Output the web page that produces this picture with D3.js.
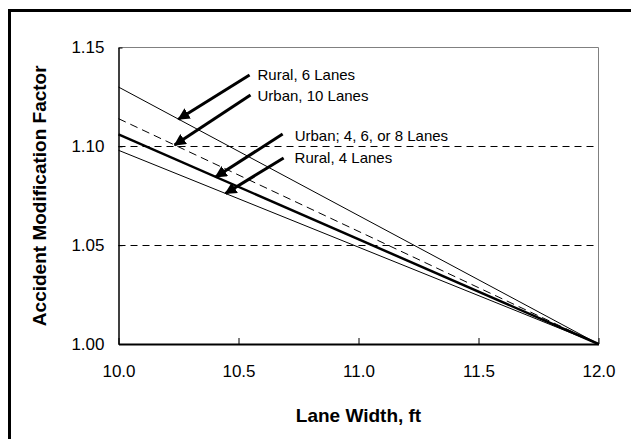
<!DOCTYPE html>
<html>
<head>
<meta charset="utf-8">
<script src="https://cdn.jsdelivr.net/npm/d3@7"></script>
<style>
  html, body { margin: 0; padding: 0; background: #fff; }
  svg { display: block; font-family: Arial, "Liberation Sans", sans-serif; }
</style>
</head>
<body>
<script>
// Lane width (ft) and accident modification factor for each roadway type
const laneWidths = [10.0, 12.0];
const rural6Lanes = [1.130, 1.000];
const urban10Lanes = [1.114, 1.000];
const urban468Lanes = [1.106, 1.000];
const rural4Lanes = [1.098, 1.000];

const xTicks = [10.0, 10.5, 11.0, 11.5, 12.0];
const yTicks = [1.00, 1.05, 1.10, 1.15];
const gridValues = [1.05, 1.10];

// Callouts: arrow tip sits on the series line, tail near the label
const callouts = [
  { label: "Rural, 6 Lanes",          tipX: 10.25,  series: rural6Lanes,   tailX: 10.546, tailY: 1.1361, dx: 8,  dy: 5 },
  { label: "Urban, 10 Lanes",         tipX: 10.234, series: urban10Lanes,  tailX: 10.550, tailY: 1.1260, dx: 7,  dy: 6.5 },
  { label: "Urban; 4, 6, or 8 Lanes", tipX: 10.405, series: urban468Lanes, tailX: 10.684, tailY: 1.1062, dx: 12, dy: 7 },
  { label: "Rural, 4 Lanes",          tipX: 10.446, series: rural4Lanes,   tailX: 10.688, tailY: 1.0941, dx: 11, dy: 5 }
];

const W = 631, H = 439;
const plot = { left: 118.5, right: 598.5, top: 47.5, bottom: 344 };

const svg = d3.select("body").append("svg").attr("width", W).attr("height", H);

// Outer chart frame
svg.append("rect")
  .attr("x", 9.5).attr("y", 10.5)
  .attr("width", W + 20).attr("height", H + 20)
  .attr("fill", "none").attr("stroke", "#000").attr("stroke-width", 3);

const x = d3.scaleLinear().domain([10, 12]).range([plot.left, plot.right]);
const y = d3.scaleLinear().domain([1.0, 1.15]).range([plot.bottom, plot.top]);

// Plot area border (top and right in grey)
svg.append("path")
  .attr("d", `M${plot.left},${plot.top}H${plot.right}V${plot.bottom}`)
  .attr("fill", "none").attr("stroke", "#808080").attr("stroke-width", 1);

// Dashed horizontal gridlines
svg.append("g").selectAll("line").data(gridValues).join("line")
  .attr("x1", plot.left).attr("x2", plot.right)
  .attr("y1", d => Math.round(y(d)) + 0.5).attr("y2", d => Math.round(y(d)) + 0.5)
  .attr("stroke", "#000").attr("stroke-width", 1)
  .attr("stroke-dasharray", "7,5");

// Series lines
const seriesDefs = [
  { values: rural6Lanes,   width: 1,   dash: null },
  { values: urban10Lanes,  width: 1,   dash: "8,5" },
  { values: urban468Lanes, width: 2.5, dash: null },
  { values: rural4Lanes,   width: 1,   dash: null }
];
const line = d3.line().x(d => x(d[0])).y(d => y(d[1]));
svg.append("g").selectAll("path").data(seriesDefs).join("path")
  .attr("d", s => line(laneWidths.map((w, i) => [w, s.values[i]])))
  .attr("fill", "none").attr("stroke", "#000")
  .attr("stroke-width", s => s.width)
  .attr("stroke-dasharray", s => s.dash);

// Axes with inside ticks
const xAxis = d3.axisBottom(x).tickValues(xTicks).tickFormat(d3.format(".1f"))
  .tickSizeInner(-6).tickSizeOuter(0).tickPadding(21);
const gx = svg.append("g").attr("transform", `translate(0,${plot.bottom})`).call(xAxis);
gx.select(".domain").attr("stroke", "#000").attr("stroke-width", 2);
gx.selectAll("text").attr("font-size", 17).attr("fill", "#000")
  .attr("font-family", "Arial, 'Liberation Sans', sans-serif");

const yAxis = d3.axisLeft(y).tickValues(yTicks).tickFormat(d3.format(".2f"))
  .tickSizeInner(-4).tickSizeOuter(0).tickPadding(14);
const gy = svg.append("g").attr("transform", `translate(${plot.left},0)`).call(yAxis);
gy.select(".domain").attr("stroke", "#000").attr("stroke-width", 1.5);
gy.selectAll("text").attr("font-size", 17).attr("fill", "#000")
  .attr("font-family", "Arial, 'Liberation Sans', sans-serif");

// Axis titles
svg.append("text")
  .attr("x", (plot.left + plot.right) / 2).attr("y", 422)
  .attr("text-anchor", "middle").attr("font-weight", "bold").attr("font-size", 19)
  .text("Lane Width, ft");
svg.append("text")
  .attr("transform", `translate(46,${(plot.top + plot.bottom) / 2}) rotate(-90)`)
  .attr("text-anchor", "middle").attr("font-weight", "bold").attr("font-size", 19)
  .text("Accident Modification Factor");

// Arrowhead marker
svg.append("defs").append("marker")
  .attr("id", "arrowhead")
  .attr("viewBox", "0 0 10 10").attr("refX", 9).attr("refY", 5)
  .attr("markerWidth", 4).attr("markerHeight", 4)
  .attr("markerUnits", "strokeWidth")
  .attr("orient", "auto")
  .append("path").attr("d", "M0,0L10,5L0,10Z").attr("fill", "#000");

const valueAt = (series, wx) =>
  series[0] + (series[1] - series[0]) * (wx - laneWidths[0]) / (laneWidths[1] - laneWidths[0]);

const cg = svg.append("g").selectAll("g").data(callouts).join("g");
cg.append("line")
  .attr("x1", d => x(d.tailX)).attr("y1", d => y(d.tailY))
  .attr("x2", d => x(d.tipX)).attr("y2", d => y(valueAt(d.series, d.tipX)))
  .attr("stroke", "#000").attr("stroke-width", 3)
  .attr("marker-end", "url(#arrowhead)");
cg.append("text")
  .attr("x", d => x(d.tailX) + d.dx).attr("y", d => y(d.tailY) + d.dy)
  .attr("font-size", 15).attr("fill", "#000")
  .text(d => d.label);
</script>
</body>
</html>
